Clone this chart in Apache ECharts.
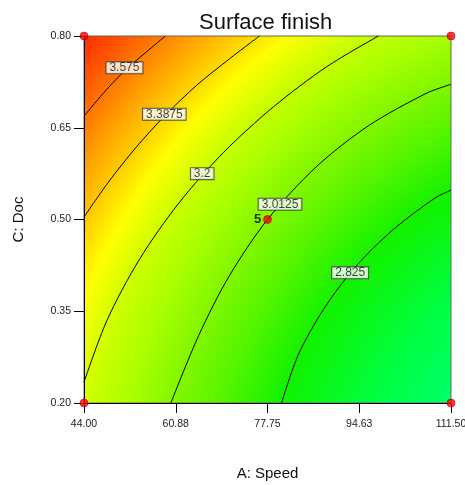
<!DOCTYPE html>
<html>
<head>
<meta charset="utf-8">
<script src="https://cdn.jsdelivr.net/npm/echarts@6/dist/echarts.min.js"></script>
<style>
html,body{margin:0;padding:0;background:#fff;}
#chart{width:465px;height:485px;}
</style>
</head>
<body>
<div id="chart"></div>
<script>
// ---- data ----
const xTickValues = [44, 60.875, 77.75, 94.625, 111.5];
const xTickLabels = ['44.00', '60.88', '77.75', '94.63', '111.50'];
const yTickValues = [0.2, 0.35, 0.5, 0.65, 0.8];
const yTickLabels = ['0.20', '0.35', '0.50', '0.65', '0.80'];

const contourLevels = ['3.575', '3.3875', '3.2', '3.0125', '2.825'];

const contour3575 = [[44.00, 0.669], [47.52, 0.706], [51.44, 0.743], [55.35, 0.773], [58.96, 0.800]];
const contour33875 = [[44.00, 0.504], [48.48, 0.561], [53.49, 0.617], [58.90, 0.670], [64.67, 0.719], [70.80, 0.763], [76.28, 0.800]];
const contour32 = [[44.00, 0.234], [48.22, 0.335], [54.21, 0.435], [61.46, 0.527], [69.70, 0.610], [78.82, 0.684], [88.67, 0.750], [98.16, 0.800]];
const contour30125 = [[59.97, 0.200], [65.08, 0.310], [70.60, 0.406], [77.75, 0.500], [86.70, 0.586], [96.28, 0.653], [106.89, 0.706], [111.50, 0.721]];
const contour2825 = [[80.33, 0.200], [83.42, 0.279], [88.12, 0.354], [93.96, 0.423], [100.81, 0.483], [108.55, 0.535], [111.50, 0.548]];

const labelX = [51.44, 58.77, 65.74, 80.05, 92.95];
const labelY = [0.748, 0.672, 0.575, 0.525, 0.413];

const designX = [44, 44, 111.5, 111.5, 77.75];
const designY = [0.2, 0.8, 0.2, 0.8, 0.5];
const designText = ['', '', '', '', '5'];

// ---- chart ----
const FONT = "'Liberation Sans', Arial, sans-serif";
const chart = echarts.init(document.getElementById('chart'), null, {renderer: 'canvas'});

const contours = [contour3575, contour33875, contour32, contour30125, contour2825];

const bg = new echarts.graphic.RadialGradient(1.53, 1.333, 2.183, [
  {offset: 0.00, color: '#00ffa0'},
  {offset: 0.287, color: '#00ff6a'},
  {offset: 0.375, color: '#00ff40'},
  {offset: 0.48, color: '#12f200'},
  {offset: 0.55, color: '#55f500'},
  {offset: 0.61, color: '#84f700'},
  {offset: 0.66, color: '#a8ff00'},
  {offset: 0.709, color: '#ccff00'},
  {offset: 0.755, color: '#ffff00'},
  {offset: 0.79, color: '#ffd000'},
  {offset: 0.83, color: '#ffa000'},
  {offset: 0.8625, color: '#ff7800'},
  {offset: 0.93, color: '#ff2800'},
  {offset: 1.0, color: '#ff0000'}
]);

const series = contours.map((pts, i) => ({
  type: 'line',
  name: contourLevels[i],
  data: pts,
  smooth: 0.3,
  symbol: 'none',
  lineStyle: {color: '#000', width: 1},
  silent: true,
  z: 3
}));

series.push({
  type: 'scatter',
  data: labelX.map((x, i) => [x, labelY[i], contourLevels[i]]),
  symbolSize: 0,
  silent: true,
  z: 5,
  label: {
    show: true,
    position: 'inside',
    formatter: p => p.value[2],
    color: '#111',
    fontFamily: FONT,
    fontSize: 12,
    lineHeight: 11,
    backgroundColor: '#fff',
    borderColor: '#333',
    borderWidth: 1,
    padding: [0, 3, 0, 3]
  }
});

series.push({
  type: 'scatter',
  data: designX.map((x, i) => [x, designY[i], designText[i]]),
  symbol: 'circle',
  symbolSize: 8,
  clip: false,
  z: 6,
  itemStyle: {color: '#ff0000', borderColor: '#700', borderWidth: 0.6},
  label: {
    show: true,
    position: 'left',
    distance: 2,
    formatter: p => p.value[2],
    color: '#000',
    fontFamily: FONT,
    fontWeight: 'bold',
    fontSize: 13
  }
});

chart.setOption({
  animation: false,
  backgroundColor: '#fff',
  title: {
    text: 'Surface finish',
    left: 194,
    top: 7,
    textStyle: {fontFamily: FONT, fontSize: 22, fontWeight: 'normal', color: '#111'}
  },
  grid: {
    left: 84, right: 14, top: 36, bottom: 82,
    show: true,
    backgroundColor: bg,
    borderColor: '#666',
    borderWidth: 1,
    containLabel: false,
    outerBoundsMode: 'none'
  },
  xAxis: {
    type: 'value',
    min: 44, max: 111.5,
    name: 'A: Speed',
    nameLocation: 'middle',
    nameGap: 63,
    nameTextStyle: {fontFamily: FONT, fontSize: 15, color: '#111'},
    axisLine: {show: true, lineStyle: {color: '#000', width: 1}},
    axisTick: {show: true, length: 10, customValues: xTickValues, lineStyle: {color: '#000'}},
    axisLabel: {
      customValues: xTickValues,
      margin: 16,
      fontFamily: FONT, fontSize: 10.5, color: '#222',
      formatter: v => xTickLabels[xTickValues.findIndex(t => Math.abs(t - v) < 1e-6)] || ''
    },
    splitLine: {show: false}
  },
  yAxis: {
    type: 'value',
    min: 0.2, max: 0.8,
    name: 'C: Doc',
    nameLocation: 'middle',
    nameGap: 58,
    nameTextStyle: {fontFamily: FONT, fontSize: 15, color: '#111'},
    axisLine: {show: true, lineStyle: {color: '#000', width: 1}},
    axisTick: {show: true, length: 10, customValues: yTickValues, lineStyle: {color: '#000'}},
    axisLabel: {
      customValues: yTickValues,
      margin: 13,
      fontFamily: FONT, fontSize: 10.5, color: '#222',
      formatter: v => yTickLabels[yTickValues.findIndex(t => Math.abs(t - v) < 1e-6)] || ''
    },
    splitLine: {show: false}
  },
  series: series
});
</script>
</body>
</html>
